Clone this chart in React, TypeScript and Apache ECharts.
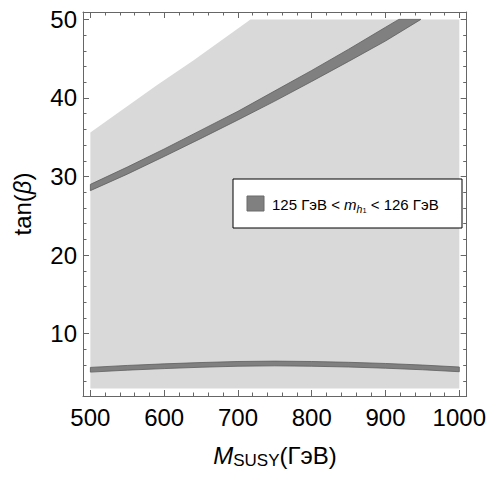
import React, { useEffect, useRef } from "react";
import * as echarts from "echarts";

// Axis ticks
const xMajor = [500, 600, 700, 800, 900, 1000];
const xMinor = [520, 540, 560, 580, 620, 640, 660, 680, 720, 740, 760, 780, 820, 840, 860, 880, 920, 940, 960, 980];
const yMajor = [10, 20, 30, 40, 50];
const yMinor = [4, 6, 8, 12, 14, 16, 18, 22, 24, 26, 28, 32, 34, 36, 38, 42, 44, 46, 48];

// Allowed (light gray) region outline
const regionX = [500, 500, 590, 640, 717, 1000, 1000];
const regionY = [3, 35.6, 41.6, 44.8, 50, 50, 3];

// Upper band (125 < m_h1 < 126 GeV), edges
const upperTopX = [500, 550, 600, 650, 700, 750, 800, 850, 900, 918];
const upperTopY = [29.0, 31.2, 33.5, 35.9, 38.3, 40.9, 43.5, 46.2, 49.0, 50];
const upperBotX = [500, 550, 600, 650, 700, 750, 800, 850, 900, 948];
const upperBotY = [28.2, 30.3, 32.55, 34.85, 37.2, 39.6, 42.1, 44.65, 47.25, 50];

// Lower band, edges
const lowerX = [500, 550, 600, 650, 700, 750, 800, 850, 900, 950, 1000];
const lowerTopY = [5.7, 5.95, 6.15, 6.32, 6.45, 6.5, 6.45, 6.35, 6.2, 6.0, 5.75];
const lowerBotY = [5.1, 5.35, 5.55, 5.72, 5.85, 5.9, 5.85, 5.75, 5.6, 5.4, 5.15];

const FONT = "'Liberation Sans', Arial, sans-serif";
const FRAME = "#666666";

function polySeries(xs: number[], ys: number[], fill: string, stroke: string, z: number) {
  return {
    type: "custom",
    xAxisIndex: 0,
    yAxisIndex: 0,
    z,
    clip: true,
    data: [[xs[0], ys[0]]],
    renderItem: (params: any, api: any) => {
      const pts = xs.map((x, i) => api.coord([x, ys[i]]));
      return {
        type: "polygon",
        shape: { points: pts },
        style: { fill, stroke, lineWidth: stroke === "none" ? 0 : 0.8 },
      };
    },
  };
}

function bandSeries(tx: number[], ty: number[], bx: number[], by: number[], z: number) {
  const xs = tx.concat(bx.slice().reverse());
  const ys = ty.concat(by.slice().reverse());
  return polySeries(xs, ys, "#808080", "#5e5e5e", z);
}

const plain = (v: number) => String(v);

export default function App() {
  const ref = useRef<HTMLDivElement>(null);
  useEffect(() => {
    if (!ref.current) return;
    const chart = echarts.init(ref.current, null, { renderer: "svg" });
    const lineStyle = { color: FRAME, width: 1 };
    const xBase = { type: "value", min: 490, max: 1010, splitLine: { show: false } };
    const yBase = { type: "value", min: 2.06, max: 50.94, splitLine: { show: false } };
    chart.setOption({
      animation: false,
      backgroundColor: "#ffffff",
      grid: { left: 83, right: 22, top: 12, bottom: 83, containLabel: false },
      xAxis: [
        {
          ...xBase,
          position: "bottom",
          axisLine: { show: true, onZero: false, lineStyle },
          axisTick: { show: true, inside: true, length: 6, customValues: xMajor, lineStyle },
          axisLabel: { show: true, customValues: xMajor, formatter: plain, fontSize: 24, fontFamily: FONT, color: "#000", margin: 9 },
        },
        {
          ...xBase,
          position: "bottom",
          axisLine: { show: false },
          axisTick: { show: true, inside: true, length: 3.5, customValues: xMinor, lineStyle },
          axisLabel: { show: false },
        },
        {
          ...xBase,
          position: "top",
          axisLine: { show: true, onZero: false, lineStyle },
          axisTick: { show: true, inside: true, length: 6, customValues: xMajor, lineStyle },
          axisLabel: { show: false },
        },
        {
          ...xBase,
          position: "top",
          axisLine: { show: false },
          axisTick: { show: true, inside: true, length: 3.5, customValues: xMinor, lineStyle },
          axisLabel: { show: false },
        },
      ],
      yAxis: [
        {
          ...yBase,
          position: "left",
          axisLine: { show: true, onZero: false, lineStyle },
          axisTick: { show: true, inside: true, length: 6, customValues: yMajor, lineStyle },
          axisLabel: { show: true, customValues: yMajor, formatter: plain, fontSize: 24, fontFamily: FONT, color: "#000", margin: 6 },
        },
        {
          ...yBase,
          position: "left",
          axisLine: { show: false },
          axisTick: { show: true, inside: true, length: 3.5, customValues: yMinor, lineStyle },
          axisLabel: { show: false },
        },
        {
          ...yBase,
          position: "right",
          axisLine: { show: true, onZero: false, lineStyle },
          axisTick: { show: true, inside: true, length: 6, customValues: yMajor, lineStyle },
          axisLabel: { show: false },
        },
        {
          ...yBase,
          position: "right",
          axisLine: { show: false },
          axisTick: { show: true, inside: true, length: 3.5, customValues: yMinor, lineStyle },
          axisLabel: { show: false },
        },
      ],
      series: [
        polySeries(regionX, regionY, "#d9d9d9", "none", 1),
        bandSeries(upperTopX, upperTopY, upperBotX, upperBotY, 2),
        bandSeries(lowerX, lowerTopY, lowerX, lowerBotY, 2),
      ],
      graphic: [
        {
          type: "rect",
          z: 100,
          shape: { x: 233, y: 179, width: 229, height: 49 },
          style: { fill: "#ffffff", stroke: "#000000", lineWidth: 1 },
        },
        {
          type: "rect",
          z: 101,
          shape: { x: 247, y: 196, width: 17, height: 15 },
          style: { fill: "#808080", stroke: "#6a6a6a", lineWidth: 1 },
        },
        {
          type: "text",
          z: 101,
          x: 272,
          y: 204,
          style: {
            text: "{a|125 ГэВ < }{m|m}{h|h}{s|1}{a| < 126 ГэВ}",
            align: "left",
            verticalAlign: "middle",
            fill: "#000",
            rich: {
              a: { fontSize: 15, fontFamily: FONT, lineHeight: 20, fill: "#000" },
              m: { fontSize: 15, fontFamily: FONT, fontStyle: "italic", lineHeight: 20, fill: "#000" },
              h: { fontSize: 10.5, fontFamily: FONT, fontStyle: "italic", lineHeight: 14, verticalAlign: "bottom", fill: "#000" },
              s: { fontSize: 7.5, fontFamily: FONT, lineHeight: 8, verticalAlign: "bottom", fill: "#000" },
            },
          },
        },
        {
          type: "text",
          z: 101,
          x: 275,
          y: 455,
          style: {
            text: "{m|M}{s|SUSY}{a|(ГэВ)}",
            align: "center",
            verticalAlign: "middle",
            fill: "#000",
            rich: {
              m: { fontSize: 24, fontFamily: FONT, fontStyle: "italic", lineHeight: 28, fill: "#000" },
              s: { fontSize: 17, fontFamily: FONT, lineHeight: 20, verticalAlign: "bottom", fill: "#000" },
              a: { fontSize: 24, fontFamily: FONT, lineHeight: 28, fill: "#000" },
            },
          },
        },
        {
          type: "text",
          z: 101,
          x: 22,
          y: 204,
          rotation: Math.PI / 2,
          style: {
            text: "{a|tan(}{b|β}{a|)}",
            align: "center",
            verticalAlign: "middle",
            fill: "#000",
            rich: {
              a: { fontSize: 24, fontFamily: FONT, fill: "#000" },
              b: { fontSize: 24, fontFamily: FONT, fontStyle: "italic", fill: "#000" },
            },
          },
        },
      ],
    });
    return () => chart.dispose();
  }, []);
  return (
    <div
      ref={ref}
      style={{ position: "absolute", left: 0, top: 0, width: 489, height: 479, background: "#fff" }}
    />
  );
}
